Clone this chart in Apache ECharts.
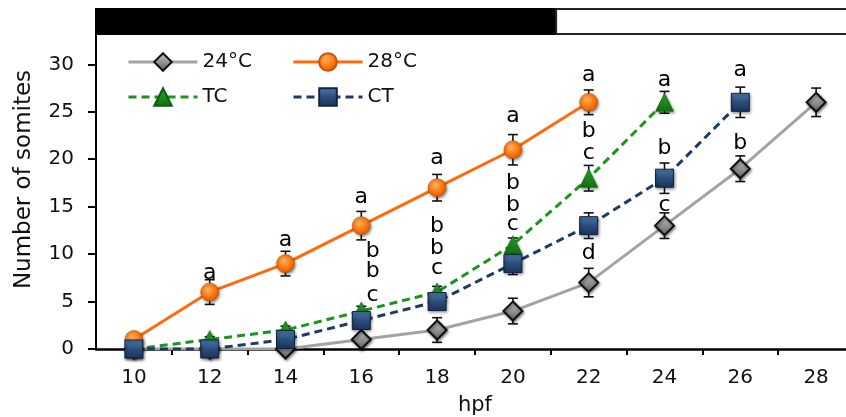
<!DOCTYPE html>
<html>
<head>
<meta charset="utf-8">
<script src="https://cdn.jsdelivr.net/npm/echarts@6/dist/echarts.min.js"></script>
<style>
html,body{margin:0;padding:0;background:#fff;}
#chart{width:846px;height:417px;}
</style>
</head>
<body>
<div id="chart"></div>
<script>
// ---------- data ----------
const hpf = [10, 12, 14, 16, 18, 20, 22, 24, 26, 28];
const xTickValues = [11, 13, 15, 17, 19, 21, 23, 25, 27];
const yTickValues = [0, 5, 10, 15, 20, 25, 30];

const seriesNames = ['24°C', '28°C', 'TC', 'CT'];

const hpf24 = [10, 12, 14, 16, 18, 20, 22, 24, 26, 28];
const val24 = [0, 0, 0, 1, 2, 4, 7, 13, 19, 26];
const err24 = [0, 0, 0, 0.5, 1.3, 1.35, 1.5, 1.35, 1.35, 1.5];

const hpf28 = [10, 12, 14, 16, 18, 20, 22];
const val28 = [1, 6, 9, 13, 17, 21, 26];
const err28 = [0.4, 1.3, 1.3, 1.5, 1.4, 1.6, 1.3];

const hpfTC = [10, 12, 14, 16, 18, 20, 22, 24];
const valTC = [0, 1, 2, 4, 6, 11, 18, 26];
const errTC = [0, 0.3, 0.4, 0.5, 0.6, 0.7, 1.35, 1.15];

const hpfCT = [10, 12, 14, 16, 18, 20, 22, 24, 26];
const valCT = [0, 0, 1, 3, 5, 9, 13, 18, 26];
const errCT = [0, 0, 0.4, 0.6, 0.8, 1.15, 1.35, 1.6, 1.6];

// significance letters (annotations)
const letterX = [12, 14, 16, 16.3, 16.3, 16.3, 18, 18, 18, 18, 20, 20, 20, 20, 22, 22, 22, 22, 24, 24, 24, 26, 26];
const letterY = [8.0, 11.5, 16.0, 10.25, 8.15, 5.7, 20.1, 12.9, 10.65, 8.5, 24.5, 17.5, 15.2, 13.1, 28.9, 22.9, 20.6, 10.1, 28.35, 21.15, 15.2, 29.4, 21.7];
const letterText = ['a', 'a', 'a', 'b', 'b', 'c', 'a', 'b', 'b', 'c', 'a', 'b', 'b', 'c', 'a', 'b', 'c', 'd', 'a', 'b', 'c', 'a', 'b'];

// dark / light period bar
const periodStart = [9, 21.14];
const periodEnd = [21.14, 29];
const periodKind = ['dark', 'light'];

// ---------- chart ----------
const FONT = 'DejaVu Sans';
const chart = echarts.init(document.getElementById('chart'), null, {renderer: 'canvas'});

function pairs(xs, ys) { return xs.map((x, i) => [x, ys[i]]); }
function errData(xs, ys, es) { return xs.map((x, i) => [x, ys[i] - es[i], ys[i] + es[i]]); }

function errSeries(xs, ys, es) {
  return {
    type: 'custom',
    xAxisIndex: 0, yAxisIndex: 0,
    silent: true,
    z: 2,
    data: errData(xs, ys, es),
    renderItem: function (params, api) {
      const x = api.value(0);
      const lo = api.coord([x, api.value(1)]);
      const hi = api.coord([x, api.value(2)]);
      if (Math.abs(hi[1] - lo[1]) < 1) return null;
      const h = 5;
      const st = {stroke: '#111', lineWidth: 1.6};
      return {
        type: 'group',
        children: [
          {type: 'line', shape: {x1: lo[0], y1: lo[1], x2: hi[0], y2: hi[1]}, style: st},
          {type: 'line', shape: {x1: lo[0] - h, y1: lo[1], x2: lo[0] + h, y2: lo[1]}, style: st},
          {type: 'line', shape: {x1: hi[0] - h, y1: hi[1], x2: hi[0] + h, y2: hi[1]}, style: st}
        ]
      };
    }
  };
}

const shadow = {shadowBlur: 3, shadowColor: 'rgba(0,0,0,0.45)', shadowOffsetX: 1, shadowOffsetY: 1.5};

const s24 = {
  name: seriesNames[0], type: 'line', z: 3,
  data: pairs(hpf24, val24),
  symbol: 'diamond', symbolSize: 19,
  lineStyle: {color: '#a3a3a3', width: 3},
  itemStyle: Object.assign({
    color: new echarts.graphic.LinearGradient(0, 0, 0, 1, [
      {offset: 0, color: '#c8c8c8'}, {offset: 1, color: '#5e5e5e'}]),
    borderColor: '#111', borderWidth: 2
  }, shadow)
};
const s28 = {
  name: seriesNames[1], type: 'line', z: 4,
  data: pairs(hpf28, val28),
  symbol: 'circle', symbolSize: 18,
  lineStyle: {color: '#ff6a0a', width: 3},
  itemStyle: Object.assign({
    color: new echarts.graphic.RadialGradient(0.4, 0.35, 0.7, [
      {offset: 0, color: '#ffb060'}, {offset: 0.55, color: '#ff7a12'}, {offset: 1, color: '#d45a00'}]),
    borderColor: '#c85200', borderWidth: 0.6
  }, shadow)
};
const sTC = {
  name: seriesNames[2], type: 'line', z: 5,
  data: pairs(hpfTC, valTC),
  symbol: 'triangle', symbolSize: 18,
  lineStyle: {color: '#1a961a', width: 3, type: [8, 5]},
  itemStyle: Object.assign({
    color: new echarts.graphic.LinearGradient(0, 0, 0, 1, [
      {offset: 0, color: '#2aa82a'}, {offset: 1, color: '#0f700f'}]),
    borderColor: '#0d5f0d', borderWidth: 0.6
  }, shadow)
};
const sCT = {
  name: seriesNames[3], type: 'line', z: 6,
  data: pairs(hpfCT, valCT),
  symbol: 'rect', symbolSize: 18,
  lineStyle: {color: '#1f3a64', width: 3, type: [8, 5]},
  itemStyle: Object.assign({
    color: new echarts.graphic.LinearGradient(0, 0, 0, 1, [
      {offset: 0, color: '#4f7db0'}, {offset: 0.5, color: '#2b4d7d'}, {offset: 1, color: '#1b3458'}]),
    borderColor: '#10243f', borderWidth: 1
  }, shadow)
};

const letters = {
  type: 'scatter', xAxisIndex: 0, yAxisIndex: 0, z: 10, silent: true,
  symbolSize: 0,
  data: letterX.map((x, i) => [x, letterY[i], letterText[i]]),
  label: {
    show: true, position: 'inside',
    formatter: p => p.value[2],
    fontFamily: FONT, fontSize: 22, color: '#000',
    textBorderWidth: 0, textBorderColor: 'transparent', opacity: 1
  },
  itemStyle: {opacity: 1},
  emphasis: {disabled: true}
};

const periods = {
  type: 'custom', xAxisIndex: 1, yAxisIndex: 1, silent: true,
  data: periodStart.map((s, i) => [s, periodEnd[i], periodKind[i]]),
  renderItem: function (params, api) {
    const a = api.coord([api.value(0), 1]);
    const b = api.coord([api.value(1), 0]);
    const dark = api.value(2) === 'dark';
    return {
      type: 'rect',
      shape: {x: a[0], y: a[1], width: b[0] - a[0], height: b[1] - a[1]},
      style: {fill: dark ? '#000' : '#fff', stroke: dark ? '#000' : '#222', lineWidth: 2}
    };
  }
};

const legendBase = {
  itemWidth: 69, itemHeight: 22, itemGap: 0, padding: 0,
  textStyle: {fontFamily: FONT, fontSize: 20, color: '#111'},
  lineStyle: {width: 3},
  selectedMode: false
};

chart.setOption({
  animation: false,
  backgroundColor: '#fff',
  textStyle: {fontFamily: FONT},
  grid: [
    {left: 96, width: 758, top: 34, bottom: 68, containLabel: false, outerBoundsMode: 'none'},
    {left: 96, width: 758, top: 9, height: 25, containLabel: false, outerBoundsMode: 'none'}
  ],
  legend: [
    Object.assign({data: [seriesNames[0]], left: 127, top: 52}, legendBase),
    Object.assign({data: [seriesNames[1]], left: 292, top: 52}, legendBase),
    Object.assign({data: [seriesNames[2]], left: 127, top: 87}, legendBase),
    Object.assign({data: [seriesNames[3]], left: 292, top: 87}, legendBase)
  ],
  xAxis: [
    {
      type: 'value', gridIndex: 0, min: 9, max: 29,
      name: 'hpf', nameLocation: 'middle', nameGap: 46,
      nameTextStyle: {fontFamily: FONT, fontSize: 21, color: '#111'},
      axisLine: {show: true, lineStyle: {color: '#000', width: 2.5}},
      axisTick: {show: true, length: 6, lineStyle: {color: '#000', width: 2}, customValues: xTickValues},
      axisLabel: {fontFamily: FONT, fontSize: 20, color: '#111', margin: 19, customValues: hpf},
      splitLine: {show: false}
    },
    {
      type: 'value', gridIndex: 1, min: 9, max: 29, show: false
    }
  ],
  yAxis: [
    {
      type: 'value', gridIndex: 0, min: 0, max: 33.2,
      name: 'Number of somites', nameLocation: 'middle', nameGap: 60,
      nameTextStyle: {fontFamily: FONT, fontSize: 23, color: '#111', padding: [0, 0, 0, 24]},
      axisLine: {show: true, lineStyle: {color: '#000', width: 2}},
      axisTick: {show: true, length: 8, lineStyle: {color: '#000', width: 2}, customValues: yTickValues},
      axisLabel: {fontFamily: FONT, fontSize: 20, color: '#111', margin: 22, customValues: yTickValues},
      splitLine: {show: false}
    },
    {
      type: 'value', gridIndex: 1, min: 0, max: 1, show: false
    }
  ],
  series: [
    periods,
    errSeries(hpf24, val24, err24),
    errSeries(hpf28, val28, err28),
    errSeries(hpfTC, valTC, errTC),
    errSeries(hpfCT, valCT, errCT),
    s24, s28, sTC, sCT,
    letters
  ]
});
</script>
</body>
</html>
